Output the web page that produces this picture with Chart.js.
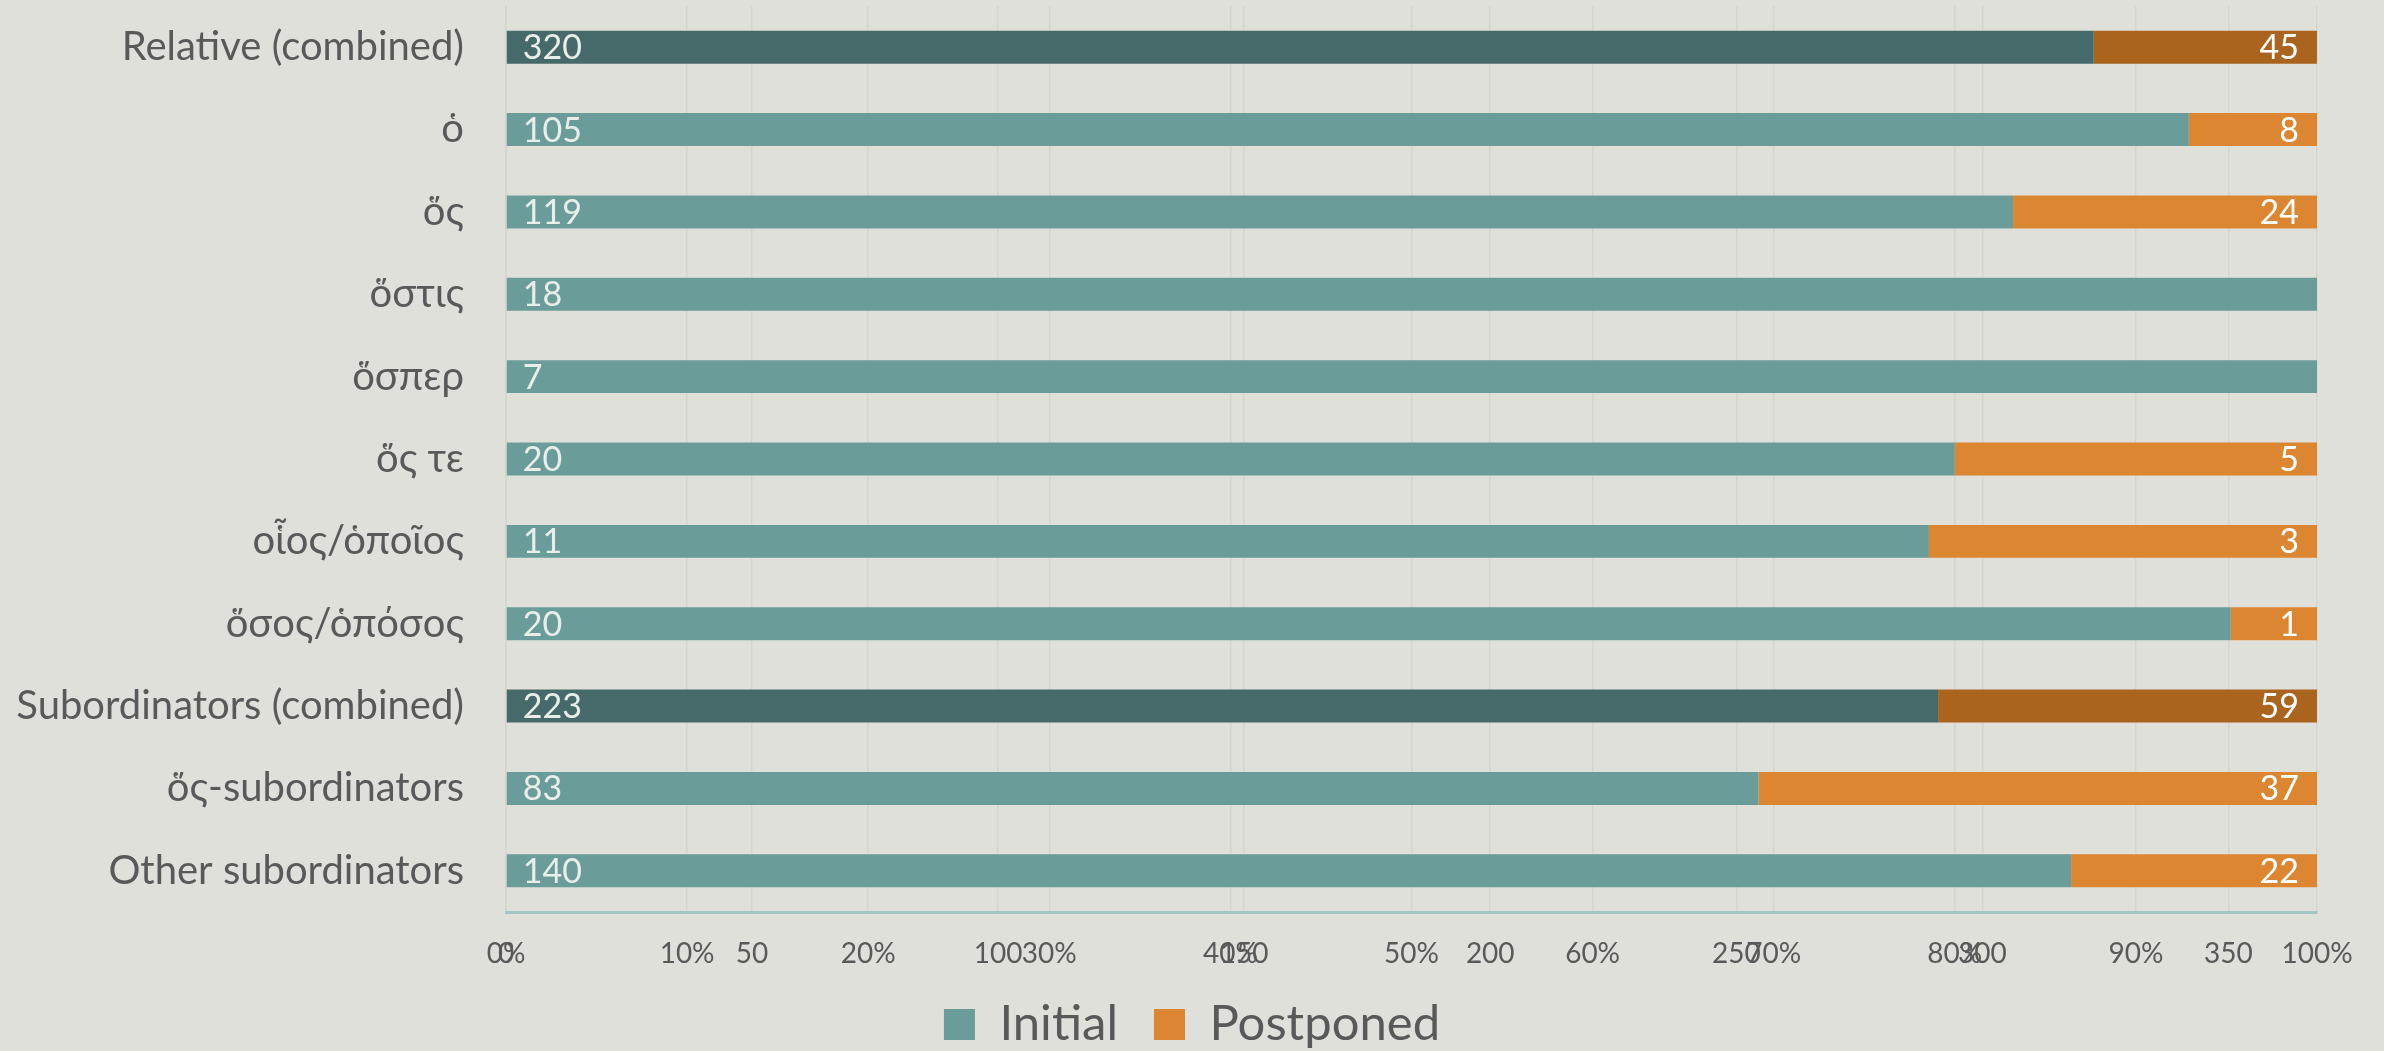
<!DOCTYPE html>
<html>
<head>
<meta charset="utf-8">
<script src="https://cdn.jsdelivr.net/npm/chart.js@4.4.1/dist/chart.umd.min.js"></script>
<style>
  html, body { margin: 0; padding: 0; background: #e0e0da; }
  #wrap { width: 2384px; height: 1051px; }
</style>
</head>
<body>
<div id="wrap"><canvas id="chart" width="2384" height="1051"></canvas></div>
<script>
// Chart values
const categories = [
  "Relative (combined)",
  "ὁ",
  "ὅς",
  "ὅστις",
  "ὅσπερ",
  "ὅς τε",
  "οἷος/ὁποῖος",
  "ὅσος/ὁπόσος",
  "Subordinators (combined)",
  "ὅς-subordinators",
  "Other subordinators",
];
const initialCounts = [320, 105, 119, 18, 7, 20, 11, 20, 223, 83, 140];
const postponedCounts = [45, 8, 24, 0, 0, 5, 3, 1, 59, 37, 22];
const seriesNames = ["Initial", "Postponed"];
const countAxisMax = 368; // secondary (count) axis shown under the % axis
const countTickStep = 50;
const percentTickStep = 10;

const FONT = "Lato, 'Noto Sans', sans-serif";
const TEXT = "#595959";
const TEAL = "#6a9d9a";
const ORANGE = "#dc8631";

// share of each row (100% stacked)
const totals = initialCounts.map((v, i) => v + postponedCounts[i]);
const initialPct = initialCounts.map((v, i) => (v / totals[i]) * 100);
const postponedPct = postponedCounts.map((v, i) => (v / totals[i]) * 100);

// combined rows are drawn darker
const isCombined = categories.map((c) => c.includes("(combined)"));
const initialColors = isCombined.map((c) => (c ? "#466a69" : TEAL));
const postponedColors = isCombined.map((c) => (c ? "#aa641e" : ORANGE));

// writes the counts inside the bars
const barValueLabels = {
  id: "barValueLabels",
  afterDatasetsDraw(chart) {
    const ctx = chart.ctx;
    ctx.save();
    ctx.font = `34px ${FONT}`;
    ctx.textBaseline = "middle";

    chart.getDatasetMeta(0).data.forEach((bar, i) => {
      ctx.fillStyle = "#eaeeeb";
      ctx.textAlign = "left";
      ctx.fillText(String(initialCounts[i]), bar.base + 16, bar.y + 1);
    });
    chart.getDatasetMeta(1).data.forEach((bar, i) => {
      if (!postponedCounts[i]) return;
      ctx.fillStyle = "#ffffff";
      ctx.textAlign = "right";
      ctx.fillText(String(postponedCounts[i]), bar.x - 18, bar.y + 1);
    });
    ctx.restore();
  },
};

const ctx = document.getElementById("chart").getContext("2d");

new Chart(ctx, {
  type: "bar",
  data: {
    labels: categories,
    datasets: [
      {
        label: seriesNames[0],
        data: initialPct,
        backgroundColor: initialColors,
        borderWidth: 0,
        xAxisID: "x",
      },
      {
        label: seriesNames[1],
        data: postponedPct,
        backgroundColor: postponedColors,
        borderWidth: 0,
        xAxisID: "x",
      },
    ],
  },
  options: {
    indexAxis: "y",
    responsive: false,
    animation: false,
    devicePixelRatio: 1,
    barPercentage: 0.4,
    categoryPercentage: 1,
    layout: { padding: { left: 0, right: 0, top: 6, bottom: 0 } },
    scales: {
      y: {
        stacked: true,
        grid: { display: false, drawTicks: false },
        border: { display: false },
        ticks: { color: TEXT, font: { family: FONT, size: 40 }, padding: 42 },
        afterFit: (scale) => {
          scale.width = 506;
          scale.paddingTop = 0;
          scale.paddingBottom = 0;
        },
      },
      // percent axis: sits on the plot edge, its labels share the row of the count axis
      x: {
        type: "linear",
        position: "bottom",
        weight: 0,
        stacked: true,
        min: 0,
        max: 100,
        grid: { color: "#d5d5d0", lineWidth: 1.5, drawTicks: false },
        border: { color: "#a3c5c6", width: 3 },
        ticks: {
          stepSize: percentTickStep,
          mirror: true,
          color: TEXT,
          font: { family: FONT, size: 28 },
          padding: -59,
          callback: (v) => v + "%",
        },
        afterFit: (scale) => {
          scale.height = 0;
        },
      },
      x2: {
        type: "linear",
        position: "bottom",
        weight: 1,
        min: 0,
        max: countAxisMax,
        grid: { color: "#d5d5d0", lineWidth: 1.5, drawTicks: false },
        border: { display: false },
        ticks: {
          stepSize: countTickStep,
          includeBounds: false,
          color: TEXT,
          font: { family: FONT, size: 28 },
          padding: 25,
        },
        afterFit: (scale) => {
          scale.height = 52;
          scale.paddingLeft = 0;
          scale.paddingRight = 67;
        },
      },
    },
    plugins: {
      tooltip: { enabled: false },
      legend: {
        position: "bottom",
        maxHeight: 87,
        labels: {
          color: TEXT,
          font: { family: FONT, size: 49 },
          boxWidth: 31,
          boxHeight: 31,
          padding: 36,
          generateLabels: () =>
            seriesNames.map((name, i) => ({
              text: name,
              fillStyle: i ? ORANGE : TEAL,
              strokeStyle: i ? ORANGE : TEAL,
              lineWidth: 0,
              fontColor: TEXT,
              datasetIndex: i,
            })),
        },
      },
    },
  },
  plugins: [barValueLabels],
});
</script>
</body>
</html>
